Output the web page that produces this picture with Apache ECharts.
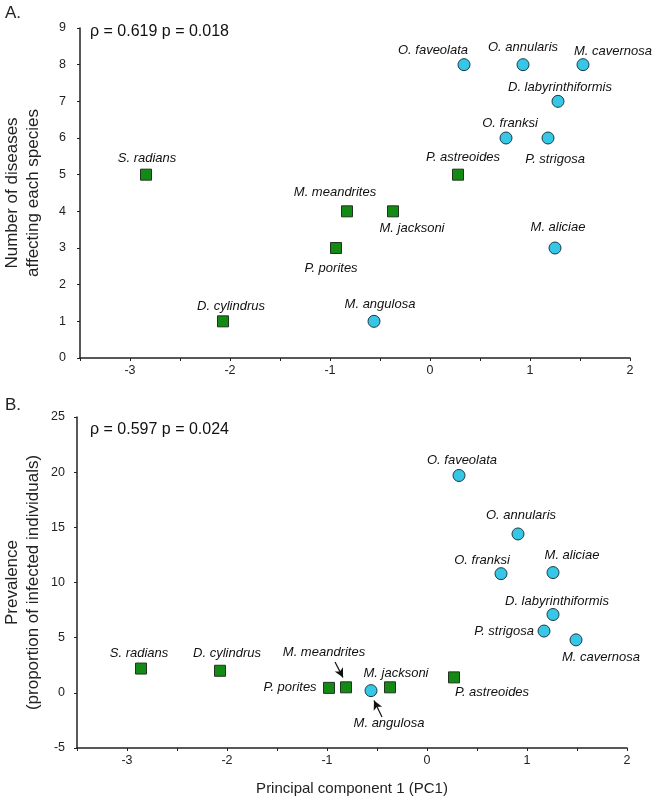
<!DOCTYPE html>
<html>
<head>
<meta charset="utf-8">
<script src="https://cdn.jsdelivr.net/npm/echarts@6/dist/echarts.min.js"></script>
<style>html,body{margin:0;padding:0;background:#fff;}#c{width:657px;height:799px;}</style>
</head>
<body>
<div id="c"></div>
<script>
// ---- Data ----
const speciesA_sq = ['S. radians','D. cylindrus','M. meandrites','M. jacksoni','P. porites','P. astreoides'];
const pcA_sq      = [-2.84, -2.07, -0.83, -0.37, -0.94, 0.28];
const diseasesSq  = [5, 1, 4, 4, 3, 5];

const speciesA_ci = ['M. angulosa','M. aliciae','O. faveolata','O. annularis','M. cavernosa','D. labyrinthiformis','O. franksi','P. strigosa'];
const pcA_ci      = [-0.56, 1.25, 0.34, 0.93, 1.53, 1.28, 0.76, 1.18];
const diseasesCi  = [1, 3, 8, 8, 8, 7, 6, 6];

const speciesB_sq = ['S. radians','D. cylindrus','M. meandrites','M. jacksoni','P. porites','P. astreoides'];
const pcB_sq      = [-2.86, -2.07, -0.81, -0.37, -0.98, 0.27];
const prevSq      = [2.2, 2.0, 0.5, 0.5, 0.45, 1.4];

const speciesB_ci = ['M. angulosa','M. aliciae','O. faveolata','O. annularis','M. cavernosa','D. labyrinthiformis','O. franksi','P. strigosa'];
const pcB_ci      = [-0.56, 1.26, 0.32, 0.91, 1.49, 1.26, 0.74, 1.17];
const prevCi      = [0.2, 10.9, 19.7, 14.4, 4.8, 7.1, 10.8, 5.6];

const statsA = 'ρ = 0.619 p = 0.018';
const statsB = 'ρ = 0.597 p = 0.024';

// arrows (data coordinates in panel B): [from, to]
const arrowMeandrites = [[-0.92, 2.8], [-0.84, 1.4]];
const arrowAngulosa   = [[-0.45, -2.2], [-0.53, -0.7]];

// ---- Label placement (styling) ----
const offA = {
  'S. radians':[1,-16], 'D. cylindrus':[8,-15], 'M. meandrites':[-12,-19], 'M. jacksoni':[19,17],
  'P. porites':[-5,20], 'P. astreoides':[5,-17], 'M. angulosa':[6,-17], 'M. aliciae':[3,-21],
  'O. faveolata':[-31,-14], 'O. annularis':[0,-17], 'M. cavernosa':[30,-13],
  'D. labyrinthiformis':[2,-14], 'O. franksi':[4,-15], 'P. strigosa':[7,21]
};
const offB = {
  'S. radians':[-2,-15], 'D. cylindrus':[7,-17], 'M. meandrites':[-22,-35], 'M. jacksoni':[6,-14],
  'P. porites':[-39,0], 'P. astreoides':[38,15], 'M. angulosa':[18,33], 'M. aliciae':[19,-17],
  'O. faveolata':[3,-15], 'O. annularis':[3,-19], 'O. franksi':[-19,-13],
  'D. labyrinthiformis':[4,-13], 'P. strigosa':[-40,0], 'M. cavernosa':[25,18]
};

const FONT = 'Liberation Sans, Arial, sans-serif';
function pts(names, xs, ys, offs) {
  return names.map((n, i) => ({
    value: [xs[i], ys[i]], name: n,
    label: { offset: offs[n] }
  }));
}
const labelStyle = {
  show: true, position: 'inside', formatter: p => p.name,
  fontFamily: FONT, fontStyle: 'italic', fontSize: 13, color: '#111',
  textBorderWidth: 0
};
const sqStyle = { color: '#138a13', borderColor: '#223322', borderWidth: 1, opacity: 1 };
const ciStyle = { color: '#36c6e6', borderColor: '#1b3a46', borderWidth: 1, opacity: 1 };

function xAxis(gi) {
  return {
    gridIndex: gi, type: 'value', min: -3.5, max: 2, interval: 0.5,
    splitLine: { show: false },
    axisLine: { show: true, onZero: false, lineStyle: { color: '#222', width: 1.5 } },
    axisTick: { show: true, length: 3, lineStyle: { color: '#222', width: 1 } },
    axisLabel: {
      fontFamily: FONT, fontSize: 12.5, color: '#222', margin: 6,
      formatter: v => (Math.abs(v - Math.round(v)) < 1e-9 ? String(Math.round(v)) : '')
    },
    name: gi === 1 ? 'Principal component 1 (PC1)' : '',
    nameLocation: 'middle', nameGap: 33,
    nameTextStyle: { fontFamily: FONT, fontSize: 15, color: '#222' }
  };
}
function yAxis(gi, min, max, interval, name, gap, margin) {
  return {
    gridIndex: gi, type: 'value', min, max, interval,
    splitLine: { show: false },
    axisLine: { show: true, onZero: false, lineStyle: { color: '#222', width: 1.5 } },
    axisTick: { show: true, length: 3, lineStyle: { color: '#222', width: 1 } },
    axisLabel: { fontFamily: FONT, fontSize: 12.5, color: '#222', margin },
    name, nameLocation: 'middle', nameGap: gap, nameRotate: 90, nameMoveOverlap: false,
    nameTextStyle: { fontFamily: FONT, fontSize: 17, color: '#222', lineHeight: 21 }
  };
}

const chart = echarts.init(document.getElementById('c'), null, { renderer: 'canvas' });
chart.setOption({
  backgroundColor: '#fff',
  animation: false,
  grid: [
    { left: 80, right: 27, top: 28, height: 330, containLabel: false, outerBoundsMode: 'none' },
    { left: 77, right: 30, top: 417, height: 331, containLabel: false, outerBoundsMode: 'none' }
  ],
  xAxis: [xAxis(0), xAxis(1)],
  yAxis: [
    yAxis(0, 0, 9, 1, 'Number of diseases\naffecting each species', 36, 14),
    yAxis(1, -5, 25, 5, 'Prevalence\n(proportion of infected individuals)', 33, 12)
  ],
  graphic: [
    { type: 'text', left: 5, top: 5, style: { text: 'A.', font: '17px ' + FONT, fill: '#222' } },
    { type: 'text', left: 5, top: 397, style: { text: 'B.', font: '17px ' + FONT, fill: '#222' } },
    { type: 'text', left: 90, top: 24, style: { text: statsA, font: '16px ' + FONT, fill: '#111' } },
    { type: 'text', left: 90, top: 422, style: { text: statsB, font: '16px ' + FONT, fill: '#111' } }
  ],
  series: [
    { type: 'scatter', xAxisIndex: 0, yAxisIndex: 0, symbol: 'rect', symbolSize: 11,
      itemStyle: sqStyle, label: labelStyle, data: pts(speciesA_sq, pcA_sq, diseasesSq, offA) },
    { type: 'scatter', xAxisIndex: 0, yAxisIndex: 0, symbol: 'circle', symbolSize: 12,
      itemStyle: ciStyle, label: labelStyle, data: pts(speciesA_ci, pcA_ci, diseasesCi, offA) },
    { type: 'scatter', xAxisIndex: 1, yAxisIndex: 1, symbol: 'rect', symbolSize: 11,
      itemStyle: sqStyle, label: labelStyle, data: pts(speciesB_sq, pcB_sq, prevSq, offB),
      markLine: {
        silent: true, symbol: ['none', 'arrow'], symbolSize: [7, 9],
        lineStyle: { color: '#111', width: 1.2, type: 'solid' },
        label: { show: false },
        emphasis: { disabled: true },
        data: [
          [{ coord: arrowMeandrites[0] }, { coord: arrowMeandrites[1] }],
          [{ coord: arrowAngulosa[0] }, { coord: arrowAngulosa[1] }]
        ]
      } },
    { type: 'scatter', xAxisIndex: 1, yAxisIndex: 1, symbol: 'circle', symbolSize: 12,
      itemStyle: ciStyle, label: labelStyle, data: pts(speciesB_ci, pcB_ci, prevCi, offB) }
  ]
});
</script>
</body>
</html>
